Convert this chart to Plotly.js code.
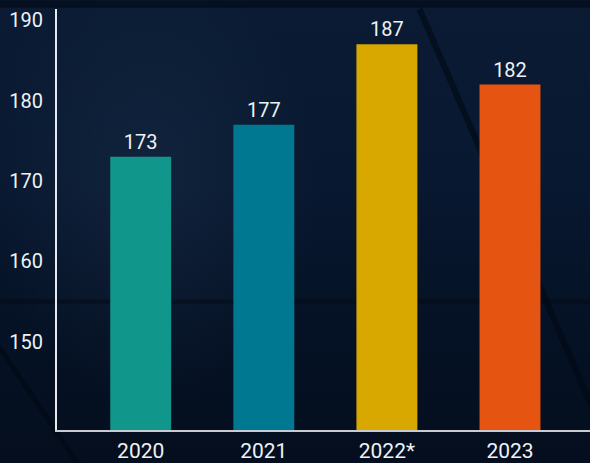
<!DOCTYPE html>
<html>
<head>
<meta charset="utf-8">
<script src="https://cdn.plot.ly/plotly-3.0.1.min.js"></script>
<style>
html,body{margin:0;padding:0;}
body{width:590px;height:463px;overflow:hidden;
background:
 radial-gradient(ellipse 240px 320px at 150px 180px, rgba(40,60,90,0.30), rgba(0,0,0,0) 70%),
 linear-gradient(180deg,#0a1b33 0%,#081830 40%,#051225 70%,#040e1e 100%);}
#chart{width:590px;height:463px;}
</style>
</head>
<body>
<div id="chart"></div>
<script>
const categories = ["2020", "2021", "2022*", "2023"];
const values = [173, 177, 187, 182];
const barColors = ["#10968a", "#007891", "#d9a800", "#e65412"];
const yTicks = [150, 160, 170, 180, 190];

const font = {family: "Roboto, 'DejaVu Sans', sans-serif", color: "#eef2f6", size: 19};

const trace = {
  type: "bar",
  x: categories,
  y: values,
  text: values.map(String),
  textposition: "outside",
  cliponaxis: false,
  textfont: {family: font.family, color: "#eef2f6", size: 20},
  marker: {color: barColors, line: {width: 0}},
  width: 0.495,
  hoverinfo: "none"
};

const bgShapes = [
  {type: "rect", xref: "paper", yref: "paper", x0: -0.2, x1: 1.1, y0: 1.003, y1: 1.02, fillcolor: "rgba(2,8,18,0.6)", line: {width: 0}, layer: "below"},
  {type: "rect", xref: "paper", yref: "paper", x0: -0.2, x1: 1.1, y0: 0.30, y1: 0.31, fillcolor: "rgba(2,8,18,0.4)", line: {width: 0}, layer: "below"},
  {type: "line", xref: "paper", yref: "paper", x0: 0.68, y0: 1.0, x1: 1.05, y1: -0.08, line: {color: "rgba(2,8,18,0.6)", width: 6}, layer: "below"},
  {type: "line", xref: "paper", yref: "paper", x0: -0.11, y0: 0.2, x1: 0.05, y1: -0.1, line: {color: "rgba(2,8,18,0.6)", width: 5}, layer: "below"}
];

const layout = {
  width: 590, height: 463,
  margin: {l: 57, r: 0, t: 9, b: 33, pad: 0},
  paper_bgcolor: "rgba(0,0,0,0)",
  plot_bgcolor: "rgba(0,0,0,0)",
  showlegend: false,
  font: font,
  bargap: 0.5,
  xaxis: {
    type: "category",
    range: [-0.68, 3.65],
    showgrid: false, zeroline: false,
    showline: true, linecolor: "#c8ccd2", linewidth: 2,
    ticks: "", ticklabelstandoff: 1,
    tickfont: {family: font.family, size: 21, color: "#eef2f6"},
    fixedrange: true
  },
  yaxis: {
    range: [139, 191.4],
    tickvals: yTicks,
    ticktext: yTicks.map(String),
    showgrid: false, zeroline: false,
    showline: true, linecolor: "#e6e9ee", linewidth: 2,
    ticks: "", ticklabelstandoff: 8,
    tickfont: {family: font.family, size: 20, color: "#eef2f6"},
    fixedrange: true
  },
  shapes: bgShapes
};

Plotly.newPlot("chart", [trace], layout, {displayModeBar: false, staticPlot: true});
</script>
</body>
</html>
